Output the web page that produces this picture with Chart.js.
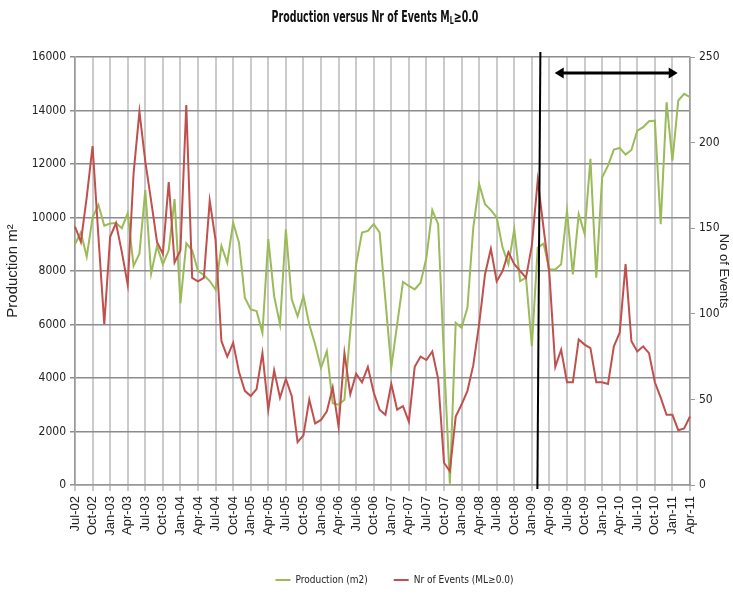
<!DOCTYPE html>
<html>
<head>
<meta charset="utf-8">
<script src="https://cdn.jsdelivr.net/npm/chart.js@4"></script>
<style>
    body { margin: 0; background: #fff; }
    #wrap { position: relative; width: 733px; height: 595px; }
    #title {
        position: absolute; top: 8px; left: 0; width: 750px; text-align: center;
        font: bold 15px 'Liberation Sans Narrow', 'DejaVu Sans Condensed', sans-serif; color: #111;
        transform: scaleX(0.7);
    }
    #title sub { font-size: 10px; vertical-align: -2px; }
</style>
</head>
<body>
<div id="wrap">
    <div id="title">Production versus Nr of Events M<sub>L</sub>≥0.0</div>
    <canvas id="events-chart" width="733" height="595"></canvas>
</div>
<script>
// monthly values, Jul-02 .. Apr-11
var production = [
    9000, 9440, 8530, 10000, 10475, 9690, 9775, 9790, 9600, 10160, 8190, 8650,
    11025, 7900, 8940, 8250, 8775, 10690, 6790, 9040, 8775, 8000, 7850, 7625,
    7310, 8940, 8310, 9810, 9060, 7000, 6560, 6500, 5690, 9190, 7060, 6000,
    9560, 6940, 6310, 7060, 6000, 5250, 4375, 5000, 3060, 3000, 3190, 5750,
    8250, 9440, 9500, 9750, 9440, 6900, 4400, 6000, 7590, 7440, 7310, 7560,
    8500, 10275, 9750, 4750, 50, 6060, 5875, 6625, 9625, 11250, 10500, 10275,
    10000, 8875, 8250, 9560, 7625, 7750, 5190, 8875, 9025, 8060, 8060, 8250,
    10250, 7875, 10125, 9400, 12190, 7750, 11500, 11940, 12540, 12600, 12350, 12525,
    13250, 13375, 13600, 13625, 9750, 14310, 12125, 14375, 14625, 14500
];
var events = [
    151, 142, 168, 198, 145, 94, 145, 153, 136, 117, 182, 218,
    189, 166, 142, 135, 177, 130, 137, 222, 121, 119, 121, 166,
    143, 84, 75, 83, 66, 55, 52, 56, 77, 44, 67, 51,
    62, 52, 25, 29, 50, 36, 38, 43, 57, 34, 77, 53,
    65, 60, 69, 54, 44, 41, 59, 44, 46, 37, 69, 75,
    73, 78, 62, 13, 8, 40, 47, 55, 70, 94, 123, 138,
    119, 125, 136, 129, 125, 121, 140, 178, 150, 123, 69, 79,
    60, 60, 85, 82, 80, 60, 60, 59, 81, 89, 129, 84,
    78, 81, 77, 60, 51, 41, 41, 32, 33, 40
];
var monthNames = ["Jan", "Feb", "Mar", "Apr", "May", "Jun", "Jul", "Aug", "Sep", "Oct", "Nov", "Dec"];
var months = [];
for (var i = 0; i < production.length; i++) {
    var m = 6 + i;
    months.push(monthNames[m % 12] + "-" + String(2002 + Math.floor(m / 12)).slice(2));
}

// marker between Jan-09 and Feb-09, arrow over the later period (category index units)
var markerAt = 79.2;
var arrowFrom = 81.9, arrowTo = 102.9, arrowLevel = 15400;

var narrow = "'Liberation Sans Narrow', 'DejaVu Sans Condensed', sans-serif";
var regular = "'Liberation Sans', Arial, sans-serif";

var periodMarker = {
    id: "periodMarker",
    afterLayout: function (chart) {
        // legend sits a bit right of the page centre in the original
        chart.legend.left += 28;
        chart.legend.right += 28;
    },
    afterDatasetsDraw: function (chart) {
        var c = chart.ctx, xs = chart.scales.x, ys = chart.scales.y, area = chart.chartArea;
        var lx = xs.getPixelForValue(markerAt);
        c.save();
        c.strokeStyle = "#000";
        c.fillStyle = "#000";
        c.lineWidth = 2;
        c.beginPath();
        c.moveTo(lx + 1.5, area.top - 5);
        c.lineTo(lx - 1.5, area.bottom + 4);
        c.stroke();

        var ay = ys.getPixelForValue(arrowLevel);
        var a1 = xs.getPixelForValue(arrowFrom), a2 = xs.getPixelForValue(arrowTo);
        c.lineWidth = 3;
        c.beginPath();
        c.moveTo(a1 + 5, ay);
        c.lineTo(a2 - 5, ay);
        c.stroke();
        c.beginPath();
        c.moveTo(a1, ay); c.lineTo(a1 + 9, ay - 5.5); c.lineTo(a1 + 9, ay + 5.5); c.closePath();
        c.moveTo(a2, ay); c.lineTo(a2 - 9, ay - 5.5); c.lineTo(a2 - 9, ay + 5.5); c.closePath();
        c.fill();
        c.restore();
    }
};

var ctx = document.getElementById("events-chart");
var chart = new Chart(ctx, {
    type: "line",
    data: {
        labels: months,
        datasets: [{
                label: "Production (m2)",
                data: production,
                yAxisID: "y",
                borderColor: "#9bbb59",
                backgroundColor: "#9bbb59",
                borderWidth: 2,
                pointRadius: 0,
                order: 2
            },
            {
                label: "Nr of Events (ML≥0.0)",
                data: events,
                yAxisID: "y1",
                borderColor: "#c0504d",
                backgroundColor: "#c0504d",
                borderWidth: 2,
                pointRadius: 0,
                order: 1
            }
        ]
    },
    options: {
        responsive: false,
        animation: false,
        layout: { padding: { top: 57, left: 0, right: 0, bottom: 0 } },
        plugins: {
            tooltip: { enabled: false },
            legend: {
                position: "bottom",
                reverse: true,
                labels: {
                    usePointStyle: true,
                    pointStyle: "line",
                    pointStyleWidth: 15,
                    color: "#222",
                    padding: 26,
                    font: { family: narrow, size: 10 }
                }
            }
        },
        scales: {
            x: {
                offset: false,
                border: { color: "#999", width: 1.5 },
                grid: {
                    color: function (c) { return c.index % 3 === 0 ? "#cbcbcb" : "transparent"; },
                    lineWidth: 2,
                    tickLength: 6
                },
                ticks: {
                    autoSkip: false,
                    maxRotation: 90,
                    minRotation: 90,
                    padding: 5,
                    color: "#222",
                    font: { family: regular, size: 13 },
                    callback: function (v, i) { return i % 3 === 0 ? months[i] : ""; }
                },
                afterFit: function (s) { s.height = 64; }
            },
            y: {
                position: "left",
                min: 0,
                max: 16000,
                border: { color: "#999", width: 1.5 },
                grid: { color: "#8c8c8c", lineWidth: 1.5, tickLength: 5 },
                ticks: {
                    stepSize: 2000, color: "#222", padding: 4, font: { family: narrow, size: 12 },
                    callback: function (v) { return v; }
                },
                title: { display: true, text: "Production m²", color: "#222", padding: { top: 4, bottom: 4 }, font: { family: regular, size: 15 } },
                afterFit: function (s) { s.width = 75; }
            },
            y1: {
                position: "right",
                min: 0,
                max: 250,
                border: { color: "#999", width: 1.5 },
                grid: { drawOnChartArea: false, tickLength: 5, color: "#999" },
                ticks: { stepSize: 50, color: "#222", padding: 4, font: { family: narrow, size: 12 } },
                title: { display: true, text: "No of Events", color: "#222", padding: { top: 2, bottom: 2 }, font: { family: regular, size: 13 } },
                afterFit: function (s) { s.width = 43; }
            }
        }
    },
    plugins: [periodMarker]
});
</script>
</body>
</html>
